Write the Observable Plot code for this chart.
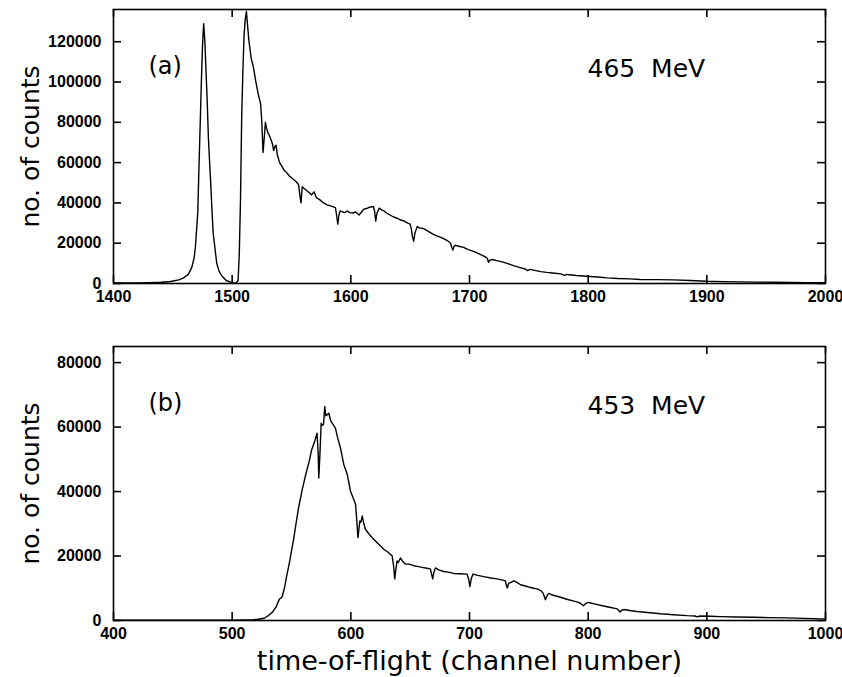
<!DOCTYPE html>
<html>
<head>
<meta charset="utf-8">
<script src="https://cdn.jsdelivr.net/npm/d3@7"></script>
<script src="https://cdn.jsdelivr.net/npm/@observablehq/plot@0.6"></script>
<style>
  html, body { margin: 0; padding: 0; background: #fff; }
  #chart { width: 842px; }
  #chart svg { display: block; overflow: visible; }
  g[aria-label="ylabel"] text { letter-spacing: 3.5px; }
</style>
</head>
<body>
<div id="chart"></div>
<script>
// ---- Panel (a): 465 MeV ----
const topChannel = [1400,1410,1420,1430,1440,1448,1455,1459,1463,1466,1468,1469,1471,1472,1473,1474,1475,1476,1477,1478,1479,1480,1481,1482,1483,1484,1486,1487,1489,1491,1495,1500,1503,1505,1506,1507,1508,1509,1510,1511,1512,1513,1514,1516,1518,1520,1522,1524,1525,1526,1527,1528,1529,1530,1531,1533,1534,1535,1536,1537,1538,1539,1540,1542,1544,1546,1548,1550,1552,1554,1556,1557,1558,1559,1561,1563,1565,1567,1569,1571,1574,1577,1580,1583,1587,1588,1589,1590,1591,1593,1595,1597,1599,1602,1604,1607,1609,1611,1613,1615,1617,1619,1620,1621,1622,1624,1626,1628,1630,1633,1636,1639,1642,1645,1648,1650,1651,1652,1653,1654,1656,1658,1660,1662,1665,1667,1670,1673,1676,1679,1682,1684,1685,1686,1687,1688,1691,1695,1699,1704,1709,1713,1715,1716,1717,1719,1724,1729,1733,1737,1742,1747,1749,1751,1755,1760,1765,1770,1777,1780,1782,1790,1799,1808,1816,1825,1835,1844,1858,1872,1886,1900,1914,1928,1942,1956,1970,1985,2000];
const topCounts = [300,300,300,400,600,1000,1800,2800,4500,8000,13000,18000,35000,57000,78000,99000,118000,129000,120000,105000,90000,72000,60000,49000,36000,25000,15000,10000,6000,4000,1500,400,100,1500,15000,41000,82000,105000,123000,131000,135000,128000,121000,112000,107000,100000,94000,89000,80000,65000,72000,80000,77000,75000,74000,71000,69000,66000,68000,68600,64000,62000,60000,58000,56000,55000,53500,52500,51500,50500,49000,44000,40000,48000,47000,46000,45000,44000,45500,42600,41500,40000,39000,38500,37700,34000,29500,34000,36000,35500,35200,36000,35200,35000,35500,34000,35500,36900,37200,37700,38000,38200,36000,31000,35000,37400,36500,36000,35000,34000,33000,32400,31500,31000,30000,29500,27000,23000,21000,25000,28300,27500,27500,27000,26000,25300,24300,23500,22900,22000,21000,20000,18000,16600,18500,19000,18500,17900,16800,15800,14500,13300,12500,10500,11500,11900,11200,10500,9700,8900,8000,7200,6400,7000,6500,5900,5500,5200,4800,4000,4500,4000,3600,3200,2800,2500,2300,2000,1900,1800,1500,1100,950,800,700,600,500,450,400];
const topXTicks = [1400,1500,1600,1700,1800,1900,2000];
const topYTicks = [0,20000,40000,60000,80000,100000,120000];
const topDomainX = [1400, 2000];
const topDomainY = [0, 136000];
const topPanelLabel = "(a)";
const topEnergyLabel = "465\u00a0\u00a0MeV";

// ---- Panel (b): 453 MeV ----
const botChannel = [400,420,440,460,480,500,510,517,522,527,530,534,537,539,540,542,544,546,548,550,552,554,556,559,562,565,567,569.5,571.5,572.5,573,574,575,576,577,578,579,580,581.5,583,584.3,587,589,591.3,594,597,599.7,602,604,605,606,607,607.6,608.5,609.6,611,612.3,615,618,622,625,628,630.6,633,634.8,636,637,638,639,640,641.8,644,646,649,653,656,660,664,667,668,669,670,671.3,674,678.3,682,686.8,692,698,699.5,700.3,701.5,703,707,712,718,723.3,727,730.3,731,731.8,733,735,737.3,740,743,747,750.8,754,757,760,762,764,765,766.8,770,776.7,782,788,792,794,796,798,800.5,806,813,818,824.5,826,827,828,830,835,841,850,861,872,883.5,890,892,894,903,911.5,925,939.5,953,967.7,982,996,1000];
const botCounts = [100,100,100,100,100,100,150,200,400,700,1400,2600,4200,6000,6700,7200,10000,13900,17500,21500,25700,30500,35000,40500,45300,49500,53000,55500,58100,52000,44200,52000,61200,60500,60900,66400,63500,63800,64300,62000,61200,59700,56500,53500,48500,45300,40100,38000,36000,31000,25700,29000,30900,30500,32400,30000,28300,27000,25700,24200,23100,22000,21400,20600,20100,17000,12900,16000,18500,18000,19400,18200,17500,17500,17000,16800,16500,16200,16000,14500,12900,15000,16300,15700,15200,15000,14600,14500,14400,12500,10500,13000,14400,14000,13600,13200,12900,12600,12300,11000,10100,11500,11800,12300,11800,11100,10700,10300,10000,9800,9300,8500,6400,7500,8400,7900,7200,6600,6000,5600,5200,4600,5300,5600,5100,4500,4100,3600,3000,2600,3100,3400,3100,2800,2500,2100,1800,1500,1400,1150,1400,1300,1200,1100,1000,900,800,650,500,500];
const botXTicks = [400,500,600,700,800,900,1000];
const botYTicks = [0,20000,40000,60000,80000];
const botDomainX = [400, 1000];
const botDomainY = [0, 85000];
const botPanelLabel = "(b)";
const botEnergyLabel = "453\u00a0\u00a0MeV";

const yTitle = "no.\u00a0of\u00a0counts";
const xTitle = "time-of-flight (channel number)";

const tickFont = "'Liberation Sans', Arial, sans-serif";
const textFont = "'DejaVu Sans', sans-serif";

const WIDTH = 842, ML = 113, MR = 17;
const TICK = 8; // tick length in pixels

function panel({channel, counts, xTicks, yTicks, domainX, domainY, panelLabel, energyLabel, height, marginTop, marginBottom, xLabel}) {
  const data = channel.map((c, i) => ({x: c, y: counts[i]}));
  const fw = WIDTH - ML - MR;
  const fh = height - marginTop - marginBottom;
  // tick lengths expressed in data units of each scale
  const ty = (domainY[1] - domainY[0]) * TICK / fh;
  const tx = (domainX[1] - domainX[0]) * TICK / fw;
  const tickStyle = {stroke: "black", strokeWidth: 1.6};
  const marks = [
    Plot.line(data, {x: "x", y: "y", stroke: "black", strokeWidth: 1.4, clip: true}),
    // inward ticks on all four sides
    Plot.ruleX(xTicks, {x: d => d, y1: domainY[0], y2: domainY[0] + ty, ...tickStyle}),
    Plot.ruleX(xTicks, {x: d => d, y1: domainY[1] - ty, y2: domainY[1], ...tickStyle}),
    Plot.ruleY(yTicks, {y: d => d, x1: domainX[0], x2: domainX[0] + tx, ...tickStyle}),
    Plot.ruleY(yTicks, {y: d => d, x1: domainX[1] - tx, x2: domainX[1], ...tickStyle}),
    Plot.frame({stroke: "black", strokeWidth: 1.6}),
    Plot.axisX({anchor: "bottom", ticks: xTicks, tickSize: 0, tickPadding: 7,
      fontSize: 16, fontWeight: "bold", fontFamily: tickFont, tickFormat: d => String(d), label: null}),
    Plot.axisY({anchor: "left", ticks: yTicks, tickSize: 0, tickPadding: 12,
      fontSize: 16, fontWeight: "bold", fontFamily: tickFont, tickFormat: d => String(d), label: null}),
    Plot.text([yTitle], {text: d => d, frameAnchor: "left", dx: -83, rotate: -90, textAnchor: "middle",
      lineAnchor: "middle", fontSize: 25, fontFamily: textFont, fill: "black", ariaLabel: "ylabel"}),
    Plot.text([panelLabel], {text: d => d, frameAnchor: "top-left", dx: 35, dy: 57, textAnchor: "start",
      lineAnchor: "middle", fontSize: 24, fontFamily: textFont, fill: "black"}),
    Plot.text([energyLabel], {text: d => d, frameAnchor: "top-left", dx: 474, dy: 59, textAnchor: "start",
      lineAnchor: "middle", fontSize: 25, fontFamily: textFont, fill: "black"})
  ];
  if (xLabel) {
    marks.push(Plot.text([xLabel], {text: d => d, frameAnchor: "bottom", dy: 41, lineAnchor: "middle",
      fontSize: 27, fontFamily: textFont, fill: "black"}));
  }
  return Plot.plot({
    width: WIDTH, height, marginLeft: ML, marginRight: MR, marginTop, marginBottom,
    style: {background: "white", color: "black", overflow: "visible"},
    x: {domain: domainX, axis: null},
    y: {domain: domainY, axis: null},
    marks
  });
}

const chart = document.getElementById("chart");
chart.append(panel({channel: topChannel, counts: topCounts, xTicks: topXTicks, yTicks: topYTicks,
  domainX: topDomainX, domainY: topDomainY, panelLabel: topPanelLabel, energyLabel: topEnergyLabel,
  height: 310, marginTop: 9, marginBottom: 27}));
chart.append(panel({channel: botChannel, counts: botCounts, xTicks: botXTicks, yTicks: botYTicks,
  domainX: botDomainX, domainY: botDomainY, panelLabel: botPanelLabel, energyLabel: botEnergyLabel,
  height: 367, marginTop: 36, marginBottom: 57, xLabel: xTitle}));
</script>
</body>
</html>
